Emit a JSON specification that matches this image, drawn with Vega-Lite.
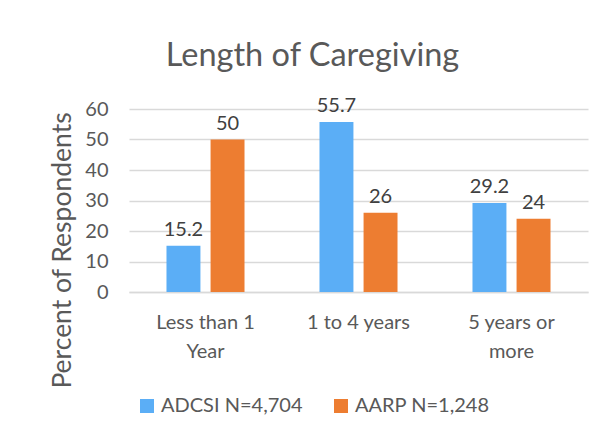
{
  "$schema": "https://vega.github.io/schema/vega-lite/v6.json",
  "width": 459,
  "height": 183,
  "autosize": {"type": "none"},
  "padding": {"left": 129, "top": 109, "right": 22, "bottom": 149},
  "background": "white",
  "title": {
    "text": "Length of Caregiving",
    "fontSize": 32.5,
    "font": "Lato",
    "fontWeight": "normal",
    "color": "#595959",
    "anchor": "middle",
    "dx": -46,
    "offset": 24
  },
  "data": {
    "values": [
      {"category": "Less than 1 Year", "series": "ADCSI N=4,704", "value": 15.2},
      {"category": "Less than 1 Year", "series": "AARP N=1,248", "value": 50},
      {"category": "1 to 4 years", "series": "ADCSI N=4,704", "value": 55.7},
      {"category": "1 to 4 years", "series": "AARP N=1,248", "value": 26},
      {"category": "5 years or more", "series": "ADCSI N=4,704", "value": 29.2},
      {"category": "5 years or more", "series": "AARP N=1,248", "value": 24}
    ]
  },
  "encoding": {
    "x": {
      "field": "category",
      "type": "nominal",
      "sort": ["Less than 1 Year", "1 to 4 years", "5 years or more"],
      "scale": {"paddingInner": 0.49, "paddingOuter": 0.245},
      "axis": {
        "title": null,
        "labelAngle": 0,
        "labelFont": "Lato",
        "labelFontSize": 20,
        "labelColor": "#595959",
        "labelPadding": 20,
        "labelLineHeight": 29,
        "ticks": false,
        "domainColor": "#D9D9D9",
        "domainWidth": 1.5,
        "labelExpr": "datum.value == 'Less than 1 Year' ? ['Less than 1', 'Year'] : datum.value == '5 years or more' ? ['5 years or', 'more'] : datum.value"
      }
    },
    "xOffset": {
      "field": "series",
      "type": "nominal",
      "sort": ["ADCSI N=4,704", "AARP N=1,248"],
      "scale": {"paddingInner": 0.23, "paddingOuter": 0}
    },
    "y": {
      "field": "value",
      "type": "quantitative",
      "scale": {"domain": [0, 60]},
      "axis": {
        "title": "Percent of Respondents",
        "titleFont": "Lato",
        "titleFontSize": 26.5,
        "titleFontWeight": "normal",
        "titleColor": "#595959",
        "titlePadding": 8,
        "titleY": 141,
        "labelFont": "Lato",
        "labelFontSize": 20,
        "labelColor": "#595959",
        "labelPadding": 21,
        "values": [0, 10, 20, 30, 40, 50, 60],
        "ticks": false,
        "domain": false,
        "gridColor": "#D9D9D9",
        "gridWidth": 1.5
      }
    }
  },
  "layer": [
    {
      "mark": {"type": "bar"},
      "encoding": {
        "color": {
          "field": "series",
          "type": "nominal",
          "sort": ["ADCSI N=4,704", "AARP N=1,248"],
          "scale": {"domain": ["ADCSI N=4,704", "AARP N=1,248"], "range": ["#5BAEF6", "#ED7D31"]},
          "legend": {
            "title": null,
            "orient": "none",
            "direction": "horizontal",
            "legendX": 8,
            "legendY": 287,
            "symbolType": "square",
            "symbolSize": 196,
            "symbolStrokeWidth": 0,
            "labelFont": "Lato",
            "labelFontSize": 20,
            "labelColor": "#595959",
            "labelOffset": 4,
            "columnPadding": 28
          }
        }
      }
    },
    {
      "mark": {"type": "text", "baseline": "bottom", "dy": -6, "font": "Lato", "fontSize": 20, "color": "#404040"},
      "encoding": {
        "text": {"field": "value", "type": "quantitative"}
      }
    }
  ],
  "config": {"view": {"stroke": null}}
}
